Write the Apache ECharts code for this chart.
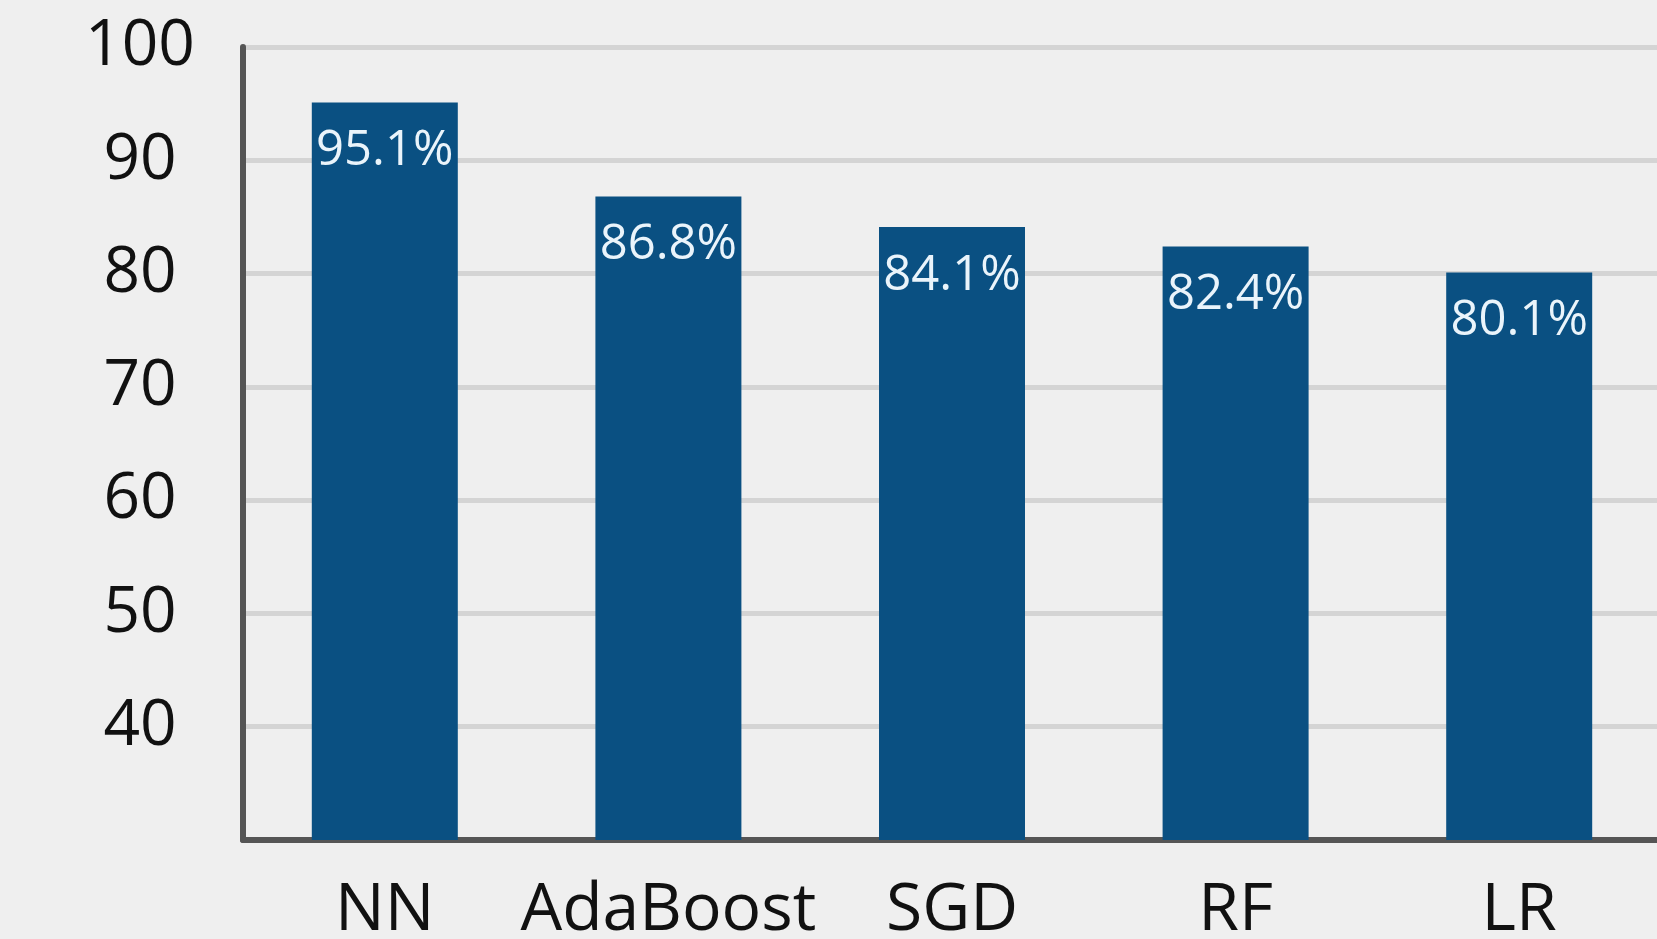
<!DOCTYPE html>
<html>
<head>
<meta charset="utf-8">
<script src="https://cdn.jsdelivr.net/npm/echarts@6/dist/echarts.min.js"></script>
<style>
  html, body { margin: 0; padding: 0; background: #efefef; }
  #main { width: 1657px; height: 939px; }
</style>
</head>
<body>
<div id="main"></div>
<script>
// data
var models = ['NN', 'AdaBoost', 'SGD', 'RF', 'LR'];
var accuracy = [95.1, 86.8, 84.1, 82.4, 80.1];
var yTicks = [40, 50, 60, 70, 80, 90, 100];

var chart = echarts.init(document.getElementById('main'));

var option = {
  backgroundColor: '#efefef',
  animation: false,
  grid: {
    left: 243,
    right: -4,
    top: 47,
    bottom: 99,
    outerBoundsMode: 'none',
    containLabel: false
  },
  xAxis: {
    type: 'category',
    data: models,
    axisLine: {
      lineStyle: { color: '#555555', width: 6 }
    },
    axisTick: { show: false },
    axisLabel: {
      interval: 0,
      hideOverlap: false,
      color: '#111111',
      fontFamily: 'Open Sans',
      fontSize: 66,
      margin: 38
    }
  },
  yAxis: {
    type: 'value',
    min: 30,
    max: 100,
    interval: 10,
    axisLine: {
      show: true,
      lineStyle: { color: '#555555', width: 6 }
    },
    axisTick: { show: false },
    splitLine: {
      lineStyle: { color: '#d4d4d4', width: 5 }
    },
    axisLabel: {
      color: '#111111',
      fontFamily: 'Open Sans',
      fontSize: 64,
      align: 'center',
      margin: 103,
      formatter: function (v) {
        return yTicks.indexOf(v) >= 0 ? String(v) : '';
      }
    }
  },
  series: [{
    type: 'bar',
    data: accuracy,
    barWidth: 146,
    itemStyle: { color: '#0a5082' },
    label: {
      show: true,
      position: 'insideTop',
      distance: 24,
      color: '#eaf4fb',
      fontFamily: 'Open Sans',
      fontSize: 49,
      formatter: function (p) { return p.value.toFixed(1) + '%'; }
    }
  }]
};

chart.setOption(option);
</script>
</body>
</html>
